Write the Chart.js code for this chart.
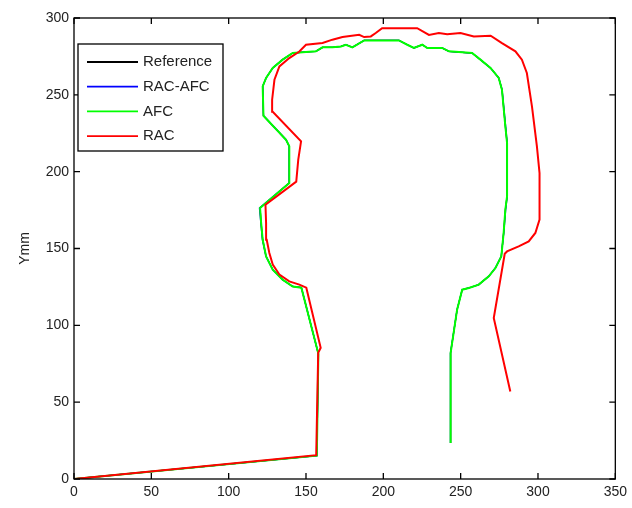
<!DOCTYPE html>
<html>
<head>
<meta charset="utf-8">
<script src="https://cdn.jsdelivr.net/npm/chart.js@4"></script>
<style>
  html, body { margin: 0; padding: 0; background: #fff; }
  #wrap { width: 632px; height: 508px; }
</style>
</head>
<body>
<div id="wrap"><canvas id="myChart" width="632" height="508"></canvas></div>
<script>
"use strict";
const xTicks = [0, 50, 100, 150, 200, 250, 300, 350];
const yTicks = [0, 50, 100, 150, 200, 250, 300];
const seriesNames = ["Reference", "RAC-AFC", "AFC", "RAC"];
const lineColors = [
    "#000000", //reference
    "#0000ff", //rac-afc
    "#00ff00", //afc
    "#ff0000" //rac
];
const lineWidths = [1.3, 1.3, 2, 2];

// AFC track (green)
const afcX = [0, 157, 158, 147, 141.4, 134.9, 128.5, 124.2, 122, 121, 120.3, 139.2, 139.2, 137.1, 122.5, 122, 124.2, 128.5, 134.9, 141.4,
    150, 156.4, 160.7, 167.1, 172.6, 175.8, 180, 187.6, 210.1, 215.5, 219.8, 225.2, 228.4, 238, 242.4, 257.4, 262.8, 269.3, 274.6, 276.7,
    278.9, 280, 280, 278.9, 277.8, 276.3, 272.5, 268.2, 261.7, 255.3, 251, 247.7, 243.5, 243.5];
const afcY = [0, 15.2, 81.5, 124.5, 125.3, 129.7, 136.2, 144.9, 155.7, 166.6, 176.4, 192.6, 216.5, 220.8, 236.4, 255.5, 261, 267.5, 272.9, 277.2,
    277.9, 278.3, 280.9, 280.9, 281.5, 282.6, 280.9, 285.4, 285.4, 282.6, 280.5, 282.6, 280.5, 280.5, 278.3, 277.2, 272.9, 267.5, 261, 253.4,
    229.5, 218.7, 183.9, 175.3, 160.3, 144.9, 137.3, 131.9, 126.5, 124.3, 123.2, 110.2, 82, 23.4];

// RAC-AFC track (blue), almost on top of AFC
const racAfcX = [0, 157, 158, 147, 141.4, 134.9, 128.5, 124.1, 121.8, 120.8, 119.9, 139.1, 139.1, 137.1, 122.5, 122, 124.2, 128.5, 134.9, 141.4,
    150, 156.4, 160.7, 167.1, 172.6, 175.8, 180, 187.6, 210.1, 215.5, 219.8, 225.2, 228.4, 238, 242.4, 257.4, 262.8, 269.3, 274.6, 276.8,
    279.1, 280.1, 280.1, 279.1, 277.9, 276.2, 272.4, 268.1, 261.7, 255.3, 251, 247.7, 243.4, 243.4];
const racAfcY = [0, 15.2, 81.5, 124.5, 125.3, 129.7, 136.2, 144.9, 155.7, 166.6, 176.4, 192.6, 216.5, 220.8, 236.4, 255.5, 261, 267.5, 272.9, 277.2,
    277.9, 278.3, 280.9, 280.9, 281.5, 282.6, 280.9, 285.4, 285.4, 282.6, 280.5, 282.6, 280.5, 280.5, 278.3, 277.2, 272.9, 267.5, 261, 253.4,
    229.5, 218.7, 183.9, 175.3, 160.3, 144.9, 137.3, 131.9, 126.5, 124.3, 123.2, 110.2, 82, 23.4];

// reference track (black) - hidden under the others
const refX = afcX;
const refY = afcY;

// RAC track (red)
const racX = [0, 156.6, 157.9, 159.5, 150.2, 145.7, 139.2, 132.8, 128.5, 126.3, 124.6, 124.2, 123.8, 143.7, 145, 146.8, 128.5, 128.1, 129.6, 132.8,
    139.2, 145.7, 150, 160.7, 167.1, 173.6, 184.4, 187.6, 191.9, 195.1, 199.2, 221.9, 229.5, 235.9, 241.3, 249.9, 258.5, 269.4, 276.7, 285.4,
    289.6, 292.8, 296.1, 299.3, 301, 301, 298.3, 294, 287.5, 280, 278.5, 271.4, 282.1];
const racY = [0, 15.5, 82.2, 85.4, 124.5, 126.5, 128.6, 133, 139.5, 147.1, 155.7, 166.6, 178.5, 193.5, 207.8, 219.7, 239, 246.8, 259.8, 268.5,
    273.9, 278.2, 282.6, 283.7, 285.9, 287.6, 289.1, 287.6, 288, 290.2, 293.4, 293.4, 289, 290.2, 289.5, 290.2, 288, 288.5, 283.7, 278.3,
    272.9, 264.2, 242.5, 216.5, 199.1, 168.8, 160.1, 154.6, 151.4, 148.1, 146.6, 104.8, 57];

const font = "'Liberation Sans', Arial, sans-serif";
let chart;

function toPoints(xs, ys) {
    return xs.map((x, i) => ({ x: x, y: ys[i] }));
}

// matlab style: box round the axes, ticks pointing inwards
const boxTicks = {
    id: "boxTicks",
    afterDatasetsDraw(c) {
        const ctx = c.ctx;
        const a = c.chartArea;
        const xs = c.scales.x;
        const ys = c.scales.y;
        ctx.save();
        ctx.strokeStyle = "#000";
        ctx.lineWidth = 1.3;
        ctx.strokeRect(a.left, a.top, a.right - a.left, a.bottom - a.top);
        ctx.beginPath();
        xTicks.forEach(t => {
            const px = xs.getPixelForValue(t);
            ctx.moveTo(px, a.bottom); ctx.lineTo(px, a.bottom - 6);
            ctx.moveTo(px, a.top); ctx.lineTo(px, a.top + 6);
        });
        yTicks.forEach(t => {
            const py = ys.getPixelForValue(t);
            ctx.moveTo(a.left, py); ctx.lineTo(a.left + 6, py);
            ctx.moveTo(a.right, py); ctx.lineTo(a.right - 6, py);
        });
        ctx.stroke();
        ctx.restore();
    }
};

// legend box in the upper left corner of the plot
const boxLegend = {
    id: "boxLegend",
    afterDraw(c) {
        const ctx = c.ctx;
        const left = 78, top = 44, w = 145, h = 107;
        ctx.save();
        ctx.fillStyle = "#fff";
        ctx.fillRect(left, top, w, h);
        ctx.strokeStyle = "#000";
        ctx.lineWidth = 1.3;
        ctx.strokeRect(left, top, w, h);
        ctx.font = "15px " + font;
        ctx.textBaseline = "middle";
        c.data.datasets.forEach((ds, i) => {
            const y = top + 18 + i * 24.7;
            ctx.strokeStyle = ds.borderColor;
            ctx.lineWidth = 1.8;
            ctx.beginPath();
            ctx.moveTo(left + 9, y);
            ctx.lineTo(left + 60, y);
            ctx.stroke();
            ctx.fillStyle = "#222";
            ctx.fillText(ds.label, left + 65, y);
        });
        ctx.restore();
    }
};

function chartMaken() {
    const sets = [[refX, refY], [racAfcX, racAfcY], [afcX, afcY], [racX, racY]];
    return new Chart("myChart", {
        type: "line",
        data: {
            datasets: sets.map((s, i) => ({
                label: seriesNames[i],
                data: toPoints(s[0], s[1]),
                borderColor: lineColors[i],
                borderWidth: lineWidths[i],
                pointRadius: 0,
                tension: 0,
                fill: false,
                // later series are painted over earlier ones
                order: sets.length - i
            }))
        },
        options: {
            responsive: false,
            animation: false,
            layout: { padding: { left: 0, top: 18, right: 15, bottom: 0 } },
            plugins: { legend: { display: false }, tooltip: { enabled: false } },
            scales: {
                x: {
                    type: "linear",
                    min: 0, max: 350,
                    afterBuildTicks: s => { s.ticks = xTicks.map(v => ({ value: v })); },
                    afterFit: s => { s.height = 29; },
                    grid: { display: false, drawTicks: false },
                    border: { display: false },
                    ticks: { color: "#222", padding: 5, font: { size: 14, family: font }, maxRotation: 0 }
                },
                y: {
                    type: "linear",
                    min: 0, max: 300,
                    afterBuildTicks: s => { s.ticks = yTicks.map(v => ({ value: v })); },
                    afterFit: s => { s.width = 74; },
                    grid: { display: false, drawTicks: false },
                    border: { display: false },
                    title: { display: true, text: "Ymm", color: "#222", font: { size: 14, family: font }, padding: { top: 17, bottom: 0 } },
                    ticks: { color: "#222", padding: 5, font: { size: 14, family: font } }
                }
            }
        },
        plugins: [boxTicks, boxLegend]
    });
}

chart = chartMaken();
</script>
</body>
</html>
